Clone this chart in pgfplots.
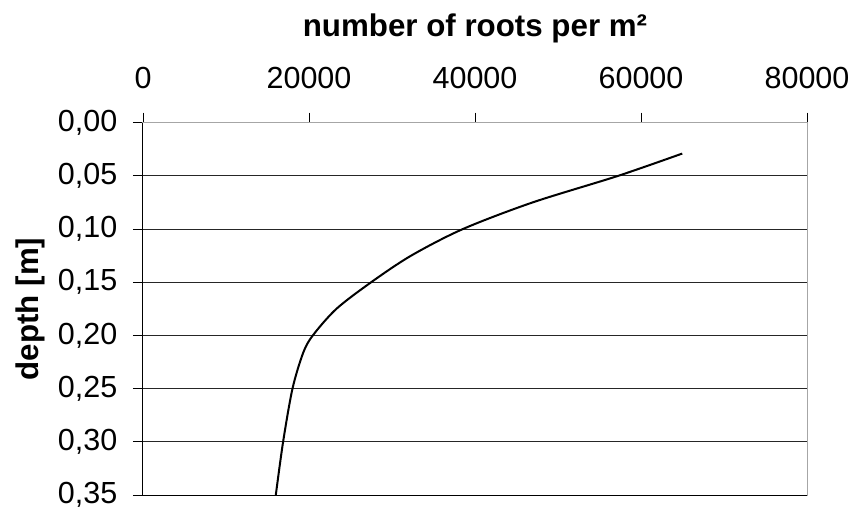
\documentclass[border=0pt]{standalone}
\usepackage{fontspec}
\setmainfont{Liberation Sans}
\usepackage{pgfplots}
\pgfplotsset{compat=1.18}

\newcommand{\chartfont}{\fontsize{30.5bp}{36bp}\selectfont}
\newcommand{\titlefont}{\fontsize{31.3bp}{37bp}\selectfont\bfseries}

\begin{document}
\chartfont
\begin{tikzpicture}
\begin{axis}[
    scale only axis,
    width=664bp, height=372.3bp,
    xmin=0, xmax=80000,
    ymin=0, ymax=0.35,
    y dir=reverse,
    xtick={0,20000,40000,60000,80000},
    ytick={0,0.05,0.1,0.15,0.2,0.25,0.3,0.35},
    scaled x ticks=false,
    xtick pos=right, xticklabel pos=right,
    ytick pos=left,
    tick align=outside,
    major tick length=10bp,
    tick style={black, line width=0.8bp},
    ymajorgrids,
    grid style={black!85, line width=0.8bp},
    axis line style={gray!70, line width=1bp},
    clip=false,
    every tick label/.append style={font=\chartfont, inner sep=0pt},
    x tick label style={/pgf/number format/fixed, /pgf/number format/1000 sep={},
        /pgf/number format/assume math mode=true, yshift=24bp},
    y tick label style={/pgf/number format/fixed, /pgf/number format/fixed zerofill,
        /pgf/number format/precision=2, /pgf/number format/use comma,
        /pgf/number format/assume math mode=true, xshift=-15.5bp},
    xlabel={number of roots per m²},
    ylabel={depth [m]},
    label style={font=\titlefont},
    xlabel style={at={(axis description cs:0.5,1)}, anchor=base, yshift=86bp},
    ylabel style={at={(axis description cs:0,0.5)}, anchor=center, yshift=113bp},
]
% depth profile
\addplot[black, line width=2bp, smooth] coordinates {
    (64970,0.029) (57230,0.05) (46920,0.075) (38530,0.10) (32300,0.125)
    (27485,0.15) (23300,0.175) (20460,0.20) (19290,0.2165) (18010,0.25)
    (16880,0.30) (16000,0.35)
};
% dark left and top frame lines
\draw[black, line width=1bp] (rel axis cs:0,1) -- (rel axis cs:0,0) -- (rel axis cs:1,0);
\end{axis}
\pgfresetboundingbox
\path ([shift={(-143bp,-14bp)}]current axis.south west) rectangle ([shift={(46bp,122.7bp)}]current axis.north east);
\end{tikzpicture}
\end{document}
